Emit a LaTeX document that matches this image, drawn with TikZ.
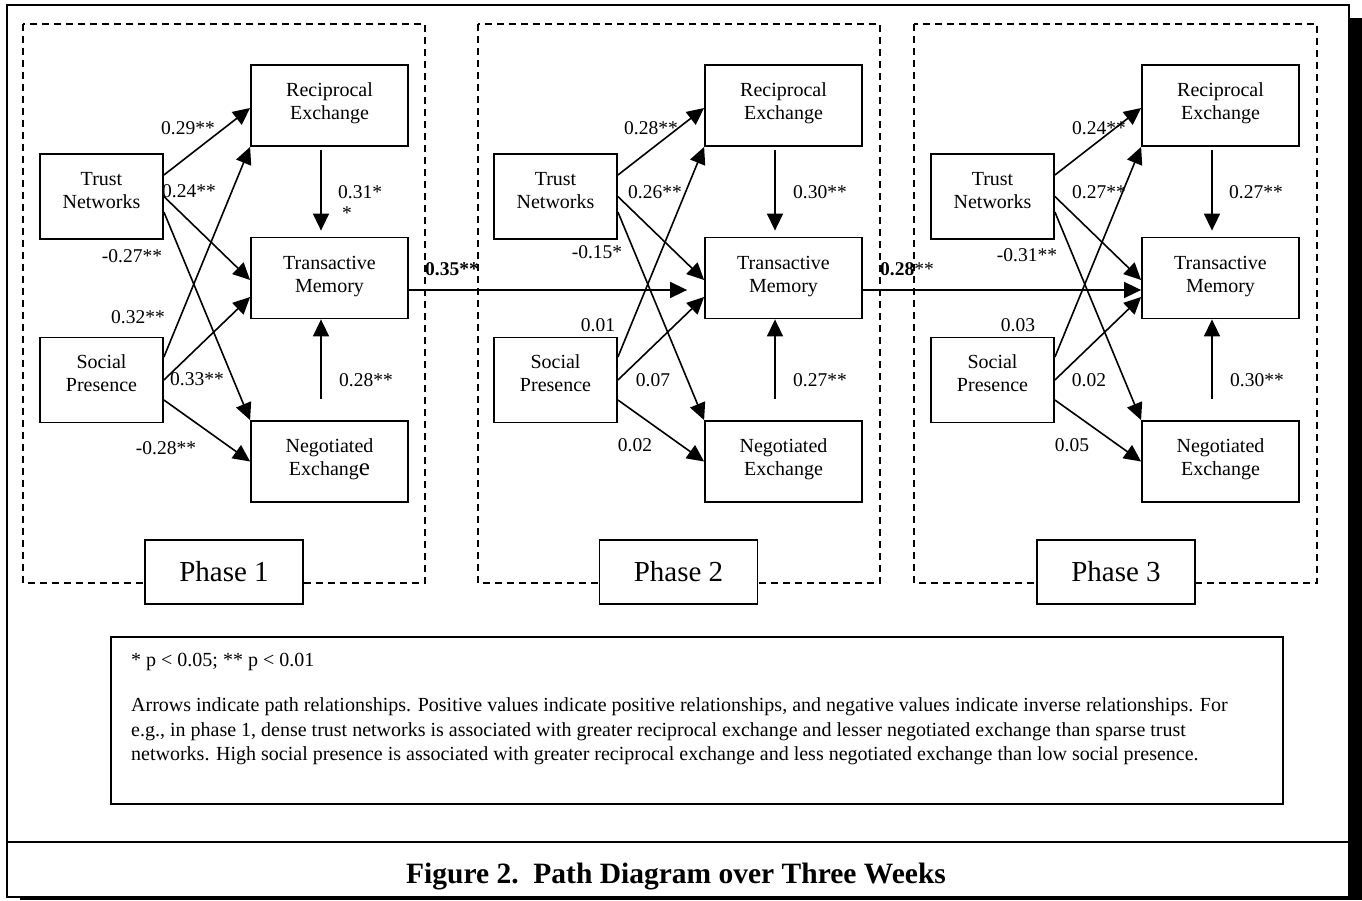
\documentclass[tikz,border=0pt]{standalone}
\usepackage{fontspec}
\setmainfont{Liberation Serif}
\usetikzlibrary{arrows.meta,calc}
\begin{document}
\begin{tikzpicture}[x=1pt,y=-1pt,
  bigbox/.style={draw,line width=1.8pt,minimum width=157pt,minimum height=81pt,inner sep=0pt,text depth=8pt,align=center,font=\fontsize{20pt}{23pt}\selectfont},
  smallbox/.style={draw,line width=1.8pt,minimum width=123pt,minimum height=85pt,inner sep=0pt,text depth=13pt,align=center,font=\fontsize{20pt}{23pt}\selectfont},
  coef/.style={inner sep=0pt,font=\fontsize{19.5pt}{21pt}\selectfont},
  arr/.style={line width=1.6pt,-{Triangle[length=17pt,width=16pt]}},
  phasebox/.style={draw,fill=white,line width=1.8pt,minimum width=158pt,minimum height=64pt,inner sep=0pt,font=\fontsize{29pt}{32pt}\selectfont},
  phaseframe/.style={line width=1.8pt,dash pattern=on 7pt off 5pt},
  frameline/.style={line width=2.2pt}
]
\useasboundingbox (0,0) rectangle (1362,900);
% outer frame with shadow
\fill (1349,18) rectangle (1362,900);
\fill (20,897) rectangle (1362,900);
\draw[frameline] (7,5) rectangle (1349,897);
\draw[frameline] (7,842) -- (1349,842);

% phase frames
\draw[phaseframe] (23,24) rectangle (425,583);
\draw[phaseframe] (478,24) rectangle (880,583);
\draw[phaseframe] (914,24) rectangle (1317,583);

% phase 1 nodes
\node[smallbox] (tn1) at (101.5,196.5) {Trust\\Networks};
\node[smallbox] (sp1) at (101.5,380) {Social\\Presence};
\node[bigbox] (re1) at (329.5,105.5) {Reciprocal\\Exchange};
\node[bigbox] (tm1) at (329.5,278) {Transactive\\Memory};
\node[bigbox] (ne1) at (329.5,461.5) {Negotiated\\Exchang{\fontsize{25pt}{25pt}\selectfont e}};
% phase 2 nodes
\node[smallbox] (tn2) at (555.5,196.5) {Trust\\Networks};
\node[smallbox] (sp2) at (555.5,380) {Social\\Presence};
\node[bigbox] (re2) at (783.5,105.5) {Reciprocal\\Exchange};
\node[bigbox] (tm2) at (783.5,278) {Transactive\\Memory};
\node[bigbox] (ne2) at (783.5,461.5) {Negotiated\\Exchange};
% phase 3 nodes
\node[smallbox] (tn3) at (992.5,196.5) {Trust\\Networks};
\node[smallbox] (sp3) at (992.5,380) {Social\\Presence};
\node[bigbox] (re3) at (1220.5,105.5) {Reciprocal\\Exchange};
\node[bigbox] (tm3) at (1220.5,278) {Transactive\\Memory};
\node[bigbox] (ne3) at (1220.5,461.5) {Negotiated\\Exchange};

% arrows within phases
\foreach \i in {1,2,3}{
  \draw[arr] ([yshift=21.5pt]tn\i.east) -- ([yshift=-2.5pt]re\i.west);
  \draw[arr] (tn\i.east) -- ([yshift=-2pt]tm\i.west);
  \draw[arr] ([yshift=-15.5pt]tn\i.east) -- (ne\i.north west);
  \draw[arr] ([yshift=23pt]sp\i.east) -- (re\i.south west);
  \draw[arr] (sp\i.east) -- ([yshift=-19pt]tm\i.west);
  \draw[arr] ([yshift=-20pt]sp\i.east) -- (ne\i.west);
  \draw[arr] ([xshift=-8.5pt,yshift=-3pt]re\i.south) -- ([xshift=-8.5pt,yshift=6pt]tm\i.north);
  \draw[arr] ([xshift=-8.5pt,yshift=21pt]ne\i.north) -- ([xshift=-8.5pt]tm\i.south);
}
% arrows between phases
\draw[arr] ([yshift=-12pt]tm1.east) -- ([xshift=-17pt,yshift=-12pt]tm2.west);
\draw[arr] ([yshift=-12pt]tm2.east) -- ([yshift=-12pt]tm3.west);

% phase labels
\node[phasebox] (ph1) at (224,572) {Phase 1};
\node[phasebox] (ph2) at (678.5,572) {Phase 2};
\node[phasebox] (ph3) at (1116,572) {Phase 3};

% coefficients phase 1
\node[coef] (c11) at (188,128) {0.29**};
\node[coef] (c12) at (189,191) {0.24**};
\node[coef] (c13) at (132,256) {-0.27**};
\node[coef] (c14) at (138,317) {0.32**};
\node[coef] (c15) at (197,379) {0.33**};
\node[coef] (c16) at (166,448) {-0.28**};
\node[coef,anchor=north west,align=left] (c17) at (338,185) {0.31*\\\hspace*{4pt}*};
\node[coef] (c18) at (366,380) {0.28**};
% coefficients phase 2
\node[coef] (c21) at (651,128) {0.28**};
\node[coef] (c22) at (655,192) {0.26**};
\node[coef] (c23) at (597,252) {-0.15*};
\node[coef] (c24) at (598,325) {0.01};
\node[coef] (c25) at (653,380) {0.07};
\node[coef] (c26) at (635,445) {0.02};
\node[coef] (c27) at (820,192) {0.30**};
\node[coef] (c28) at (820,380) {0.27**};
% coefficients phase 3
\node[coef] (c31) at (1099,128) {0.24**};
\node[coef] (c32) at (1099,192) {0.27**};
\node[coef] (c33) at (1027,255) {-0.31**};
\node[coef] (c34) at (1018,325) {0.03};
\node[coef] (c35) at (1089,380) {0.02};
\node[coef] (c36) at (1072,445) {0.05};
\node[coef] (c37) at (1256,192) {0.27**};
\node[coef] (c38) at (1257,380) {0.30**};
% between phases
\node[coef] (c12x) at (452,269) {\textbf{0.35**}};
\node[coef] (c23x) at (907,269) {\textbf{0.28}**};

% legend
\draw[frameline] (111,637) rectangle (1283,804);
\node[anchor=base west,inner sep=0pt,font=\fontsize{20pt}{24.5pt}\selectfont] (note) at (131,666) {* p < 0.05; ** p < 0.01};
\node[anchor=north west,inner sep=0pt,align=left,font=\fontsize{20pt}{24.5pt}\selectfont] (expl) at (131,697.5) {Arrows indicate path relationships. Positive values indicate positive relationships, and negative values indicate inverse relationships. For\\e.g., in phase 1, dense trust networks is associated with greater reciprocal exchange and lesser negotiated exchange than sparse trust\\networks. High social presence is associated with greater reciprocal exchange and less negotiated exchange than low social presence.};

% title
\node[anchor=base,inner sep=0pt,font=\fontsize{29.5pt}{31pt}\selectfont\bfseries] (title) at (676,883) {Figure 2.~~Path Diagram over Three Weeks};
\end{tikzpicture}
\end{document}
